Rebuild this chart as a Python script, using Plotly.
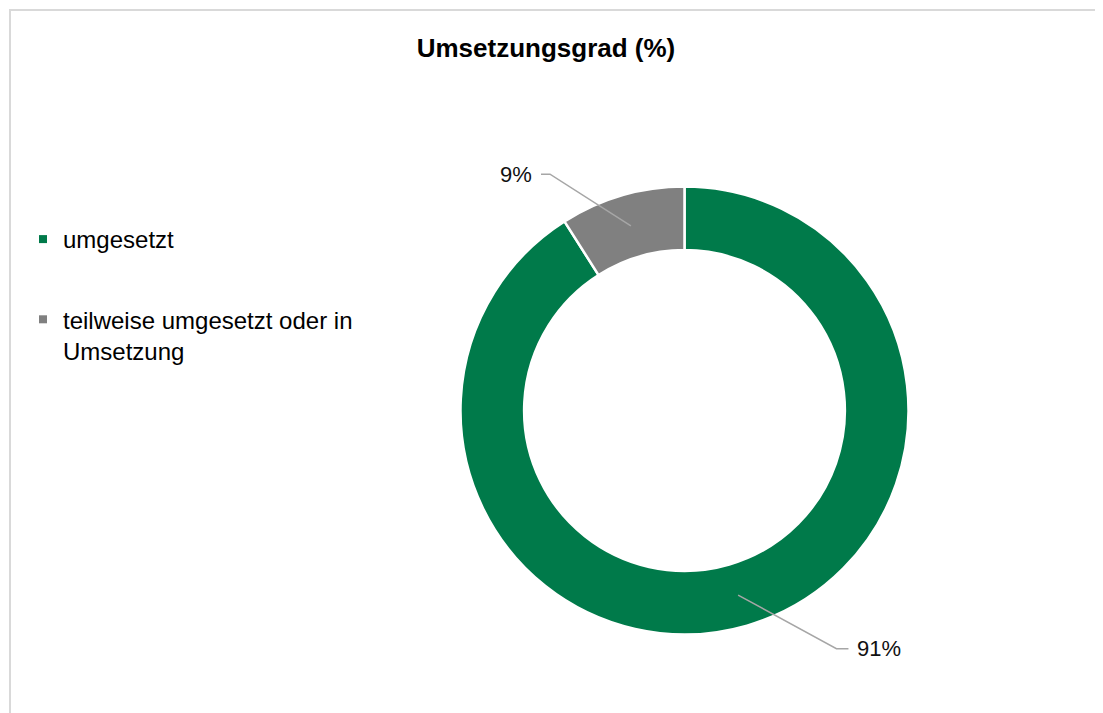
import math
import plotly.graph_objects as go

# ---------------- data ----------------
categories = ["umgesetzt", "teilweise umgesetzt oder in Umsetzung"]
legend_labels = ["umgesetzt", "teilweise umgesetzt oder in<br>Umsetzung"]
values = [91, 9]
value_labels = ["91%", "9%"]
colors = ["#007A4A", "#808080"]
title_text = "Umsetzungsgrad (%)"

# ---------------- layout / style ----------------
W, H = 1103, 713
OFF = 8                        # page body margin (px)
CX, CY = 684.5, 410.5          # donut centre (screen px)
R_OUT = 224                    # outer radius (px)
HOLE = 0.716
R_MID = R_OUT * (1 + HOLE) / 2
LEADER_LEN = [112, 96]         # px
LEADER_ANGLE = [28.6, 32.6]    # deg from horizontal
LEADER_TAIL = [12, 9]          # px horizontal tail
TEXT_GAP = 7
FONT = "Liberation Sans, Arial, sans-serif"


def px(x, y):
    return (x - OFF) / W, 1 - (y - OFF) / H


fig = go.Figure()

x0, y1 = px(CX - R_OUT, CY - R_OUT)
x1, y0 = px(CX + R_OUT, CY + R_OUT)
fig.add_trace(go.Pie(
    labels=categories,
    values=values,
    marker=dict(colors=colors, line=dict(color="white", width=2.5)),
    hole=HOLE,
    sort=False,
    direction="clockwise",
    rotation=0,
    textinfo="none",
    showlegend=False,
    domain=dict(x=[x0, x1], y=[y0, y1]),
    hovertemplate="%{label}: %{value}%<extra></extra>",
))

# legend entries (one group per category so the gap can be set)
for lab, col, name in zip(legend_labels, colors, categories):
    fig.add_trace(go.Scatter(
        x=[None], y=[None], mode="markers", name=lab,
        marker=dict(symbol="square", size=8, color=col),
        legendgroup=name, hoverinfo="skip",
    ))

# leader lines + value labels computed from the slice angles
total = sum(values)
cum = 0
shapes = []
annotations = []
for i, (v, lbl) in enumerate(zip(values, value_labels)):
    mid = math.radians((cum + v / 2) / total * 360)
    cum += v
    sx = CX + R_MID * math.sin(mid)
    sy = CY - R_MID * math.cos(mid)
    side = 1 if math.sin(mid) >= 0 else -1
    vside = 1 if -math.cos(mid) >= 0 else -1
    a = math.radians(LEADER_ANGLE[i])
    ex = sx + side * LEADER_LEN[i] * math.cos(a)
    ey = sy + vside * LEADER_LEN[i] * math.sin(a)
    tx = ex + side * LEADER_TAIL[i]
    p0, p1, p2 = px(sx, sy), px(ex, ey), px(tx, ey)
    shapes.append(dict(
        type="path", xref="paper", yref="paper", layer="above",
        path=f"M {p0[0]},{p0[1]} L {p1[0]},{p1[1]} L {p2[0]},{p2[1]}",
        line=dict(color="#a6a6a6", width=1.5),
    ))
    lx, ly = px(tx + side * TEXT_GAP, ey)
    annotations.append(dict(
        x=lx, y=ly, xref="paper", yref="paper", text=lbl, showarrow=False,
        xanchor="left" if side > 0 else "right", yanchor="middle",
        font=dict(family=FONT, size=22, color="#111111"),
    ))

# chart-area border
bx, by = px(10, 10)
shapes.append(dict(
    type="rect", xref="paper", yref="paper", layer="below",
    x0=bx, y0=-0.05, x1=1.05, y1=by,
    line=dict(color="#d9d9d9", width=2), fillcolor="rgba(0,0,0,0)",
))

tx_, ty_ = px(546, 48)
lgx, lgy = px(23, 217)
fig.update_layout(
    width=W, height=H,
    margin=dict(l=0, r=0, t=0, b=0),
    paper_bgcolor="white", plot_bgcolor="white",
    title=dict(text=f"<b>{title_text}</b>", x=tx_, y=ty_,
               xanchor="center", yanchor="middle",
               font=dict(family=FONT, size=26, color="#000000")),
    xaxis=dict(visible=False), yaxis=dict(visible=False),
    legend=dict(x=lgx, y=lgy, xanchor="left", yanchor="top",
                font=dict(family=FONT, size=24, color="#000000"),
                tracegroupgap=46, valign="top", itemclick=False,
                bgcolor="rgba(0,0,0,0)"),
    shapes=shapes,
    annotations=annotations,
)

fig.write_html("out.html")
